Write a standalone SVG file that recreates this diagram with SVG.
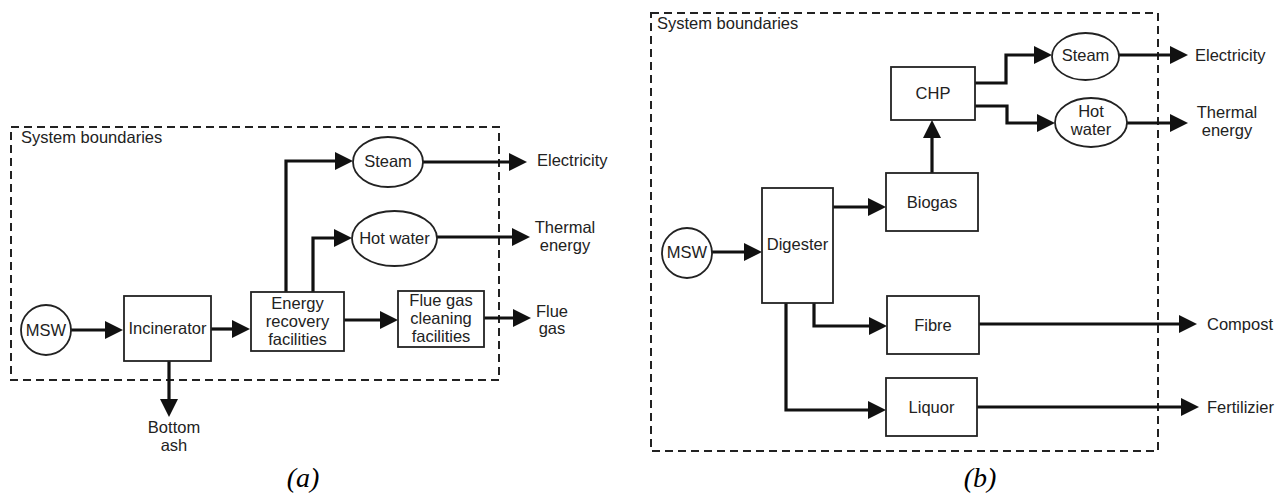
<svg xmlns="http://www.w3.org/2000/svg" width="1284" height="495" viewBox="0 0 1284 495">
<style>
.bnd{fill:none;stroke:#222;stroke-width:2;stroke-dasharray:8 5}
.box{fill:#fff;stroke:#222;stroke-width:1.8}
.t{font-family:"Liberation Sans",Arial,sans-serif;font-size:16.5px;fill:#222}
.m{text-anchor:middle}
.cap{font-family:"Liberation Serif","Times New Roman",serif;font-style:italic;font-size:28px;fill:#000;text-anchor:middle}
.c{fill:none;stroke:#111;stroke-width:3.2;stroke-linejoin:miter;marker-end:url(#ah)}
</style>
<defs>
<marker id="ah" markerUnits="userSpaceOnUse" markerWidth="19" markerHeight="19" refX="8" refY="9" orient="auto">
<path d="M0,0 L18,9 L0,18 z" fill="#111"/>
</marker>
</defs>
<rect width="1284" height="495" fill="#fff"/>

<!-- Panel (a) -->
<g id="boundary-a">
<rect class="bnd" x="11" y="127" width="488" height="253"/>
<text class="t" x="21" y="143">System boundaries</text>
</g>
<g id="connectors-a">
<path class="c" d="M71,330 H113"/>
<path class="c" d="M211,329 H240"/>
<path class="c" d="M286,292 V161 H343"/>
<path class="c" d="M313,292 V238 H342"/>
<path class="c" d="M344,320 H388"/>
<path class="c" d="M484,318 H521"/>
<path class="c" d="M423,162 H517"/>
<path class="c" d="M437,237 H520"/>
<path class="c" d="M169,361 V407"/>
</g>
<g id="a-msw"><circle class="box" cx="46" cy="330" r="25"/><text class="t m" x="46" y="336">MSW</text></g>
<g id="a-incinerator"><rect class="box" x="124" y="296" width="87" height="65"/><text class="t m" x="167.5" y="334">Incinerator</text></g>
<g id="a-energy"><rect class="box" x="251" y="292" width="93" height="59"/>
<text class="t m" x="297.5" y="309">Energy</text><text class="t m" x="297.5" y="327">recovery</text><text class="t m" x="297.5" y="345">facilities</text></g>
<g id="a-flue"><rect class="box" x="398" y="291" width="86" height="56"/>
<text class="t m" x="441" y="306">Flue gas</text><text class="t m" x="441" y="324">cleaning</text><text class="t m" x="441" y="342">facilities</text></g>
<g id="a-steam"><ellipse class="box" cx="388" cy="162" rx="35" ry="25"/><text class="t m" x="388" y="167">Steam</text></g>
<g id="a-hotwater"><ellipse class="box" cx="394.5" cy="238.5" rx="42.5" ry="27.5"/><text class="t m" x="394.5" y="244">Hot water</text></g>
<g id="a-electricity"><text class="t" x="537" y="166">Electricity</text></g>
<g id="a-thermal"><text class="t m" x="565" y="233">Thermal</text><text class="t m" x="565" y="251">energy</text></g>
<g id="a-fluegas"><text class="t m" x="552" y="317">Flue</text><text class="t m" x="552" y="334">gas</text></g>
<g id="a-ash"><text class="t m" x="174" y="433">Bottom</text><text class="t m" x="174" y="451">ash</text></g>
<text class="cap" x="303" y="487">(a)</text>

<!-- Panel (b) -->
<g id="boundary-b">
<rect class="bnd" x="651" y="13" width="507" height="438"/>
<text class="t" x="657" y="29">System boundaries</text>
</g>
<g id="connectors-b">
<path class="c" d="M712,252 H752"/>
<path class="c" d="M833,207 H876"/>
<path class="c" d="M932,173 V130"/>
<path class="c" d="M975,83 H1006 V55 H1042"/>
<path class="c" d="M975,106 H1007 V123 H1045"/>
<path class="c" d="M1119,55 H1178"/>
<path class="c" d="M1127,123 H1178"/>
<path class="c" d="M814,303 V326 H877"/>
<path class="c" d="M786,303 V410 H876"/>
<path class="c" d="M979,324 H1187"/>
<path class="c" d="M977,407 H1189"/>
</g>
<g id="b-msw"><circle class="box" cx="687" cy="253" r="25"/><text class="t m" x="687" y="258">MSW</text></g>
<g id="b-digester"><rect class="box" x="762" y="188" width="71" height="115"/><text class="t m" x="797.5" y="250">Digester</text></g>
<g id="b-biogas"><rect class="box" x="886" y="173" width="92" height="58"/><text class="t m" x="932" y="208">Biogas</text></g>
<g id="b-chp"><rect class="box" x="891" y="67" width="84" height="53"/><text class="t m" x="933" y="99">CHP</text></g>
<g id="b-steam"><ellipse class="box" cx="1085.5" cy="56.5" rx="33.5" ry="23.5"/><text class="t m" x="1085.5" y="61">Steam</text></g>
<g id="b-hotwater"><ellipse class="box" cx="1091" cy="122.5" rx="36" ry="24.5"/><text class="t m" x="1091" y="117">Hot</text><text class="t m" x="1091" y="135">water</text></g>
<g id="b-electricity"><text class="t" x="1195" y="61">Electricity</text></g>
<g id="b-thermal"><text class="t m" x="1227" y="118">Thermal</text><text class="t m" x="1227" y="136">energy</text></g>
<g id="b-fibre"><rect class="box" x="887" y="296" width="92" height="58"/><text class="t m" x="933" y="331">Fibre</text></g>
<g id="b-liquor"><rect class="box" x="886" y="378" width="91" height="58"/><text class="t m" x="931.5" y="413">Liquor</text></g>
<g id="b-compost"><text class="t" x="1207" y="330">Compost</text></g>
<g id="b-fertilizier"><text class="t" x="1207" y="413">Fertilizier</text></g>
<text class="cap" x="980" y="487">(b)</text>
</svg>
